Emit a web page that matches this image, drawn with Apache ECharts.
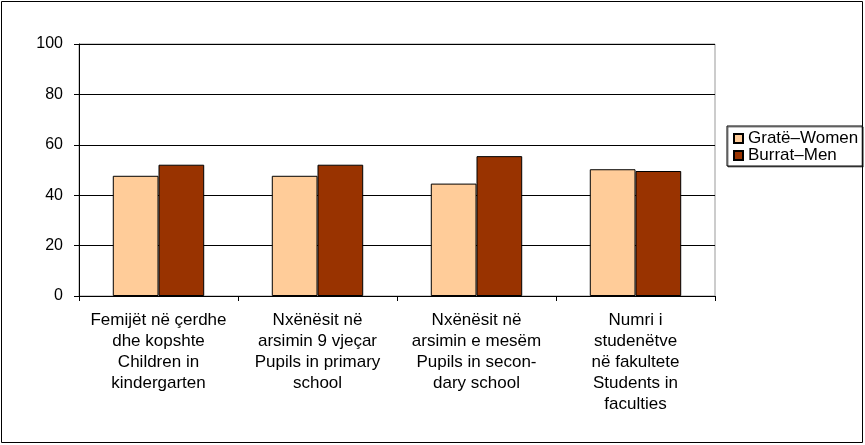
<!DOCTYPE html>
<html><head><meta charset="utf-8">
<script src="https://cdn.jsdelivr.net/npm/echarts@6/dist/echarts.min.js"></script>
<style>html,body{margin:0;padding:0;background:#fff}#c{width:865px;height:445px}</style>
</head><body><div id="c"></div>
<script>
const categories = [
  "Femijët në çerdhe\ndhe kopshte\nChildren in\nkindergarten",
  "Nxënësit në\narsimin 9 vjeçar\nPupils in primary\nschool",
  "Nxënësit në\narsimin e mesëm\nPupils in secon-\ndary school",
  "Numri i\nstudenëtve\nnë fakultete\nStudents in\nfaculties"
];
const women = [47.7, 47.7, 44.6, 50.3];
const men = [52.1, 52.1, 55.5, 49.6];
const yTicks = {min: 0, max: 100, interval: 20};
const seriesNames = ["Gratë–Women", "Burrat–Men"];

const chart = echarts.init(document.getElementById('c'), null, {renderer: 'canvas'});
const font = 'Liberation Sans, Arial, sans-serif';
chart.setOption({
  animation: false,
  textStyle: {fontFamily: font},
  graphic: [{
    type: 'rect', shape: {x: 1.5, y: 1.5, width: 861, height: 441},
    style: {fill: 'none', stroke: '#000', lineWidth: 1}, z: -1
  }],
  grid: {left: 79, right: 150, top: 44, bottom: 149, show: true, borderColor: '#999', borderWidth: 1, backgroundColor: '#fff'},
  legend: {
    orient: 'vertical', left: 727, top: 126, itemWidth: 9, itemHeight: 9, itemGap: 0,
    icon: 'rect', padding: [4, 4, 2, 6],
    borderColor: '#000', borderWidth: 1, backgroundColor: '#fff',
    shadowColor: 'rgba(0,0,0,0.5)', shadowOffsetX: 1, shadowOffsetY: 1, shadowBlur: 0,
    textStyle: {fontSize: 17, color: '#000', fontFamily: font, padding: [0, 0, 0, 0]},
    data: seriesNames
  },
  xAxis: {
    type: 'category', data: categories,
    axisLine: {lineStyle: {color: '#000', width: 1}},
    axisTick: {show: true, length: 5, lineStyle: {color: '#000'}},
    axisLabel: {interval: 0, color: '#000', fontSize: 17, lineHeight: 21, margin: 14, fontFamily: font}
  },
  yAxis: {
    type: 'value', min: yTicks.min, max: yTicks.max, interval: yTicks.interval,
    axisLine: {show: true, lineStyle: {color: '#000', width: 1}},
    axisTick: {show: true, length: 5, lineStyle: {color: '#000'}},
    axisLabel: {color: '#000', fontSize: 16, margin: 16, fontFamily: font},
    splitLine: {lineStyle: {color: '#000', width: 1}}
  },
  series: [
    {name: seriesNames[0], type: 'bar', data: women, barCategoryGap: '42.5%', barGap: '0%',
     itemStyle: {color: '#FFCC99', borderColor: '#000', borderWidth: 1}},
    {name: seriesNames[1], type: 'bar', data: men, barCategoryGap: '42.5%', barGap: '0%',
     itemStyle: {color: '#993300', borderColor: '#000', borderWidth: 1}}
  ]
});
</script></body></html>
